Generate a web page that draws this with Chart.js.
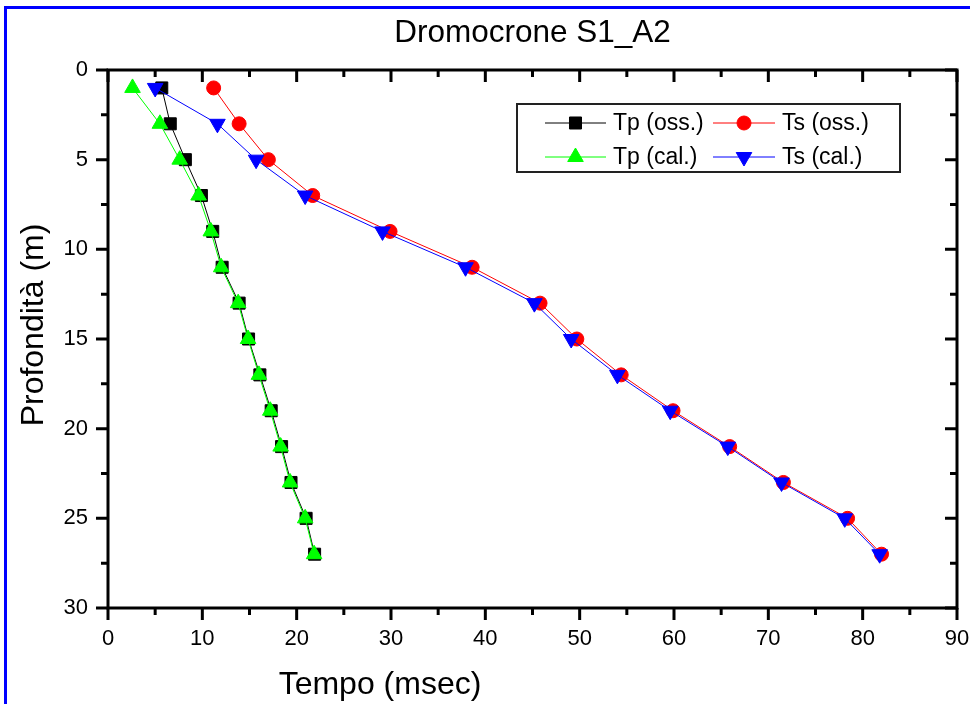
<!DOCTYPE html>
<html>
<head>
<meta charset="utf-8">
<script src="https://cdn.jsdelivr.net/npm/chart.js@4.4.1/dist/chart.umd.min.js"></script>
<style>
  html, body { margin: 0; padding: 0; background: #fff; }
  #wrap { position: relative; width: 970px; height: 704px; }
  #wrap canvas { position: absolute; left: 0; top: 0; }
  #frame { position: absolute; left: 4px; top: 6px; right: 0; bottom: 0;
           border-left: 3px solid #0000ff; border-top: 3px solid #0000ff; pointer-events: none; }
</style>
</head>
<body>
<div id="wrap"><canvas id="chart" width="970" height="704"></canvas><div id="frame"></div></div>
<script>
const chartTitle = "Dromocrone S1_A2";
const xTitle = "Tempo (msec)";
const yTitle = "Profondità (m)";
const seriesNames = ["Tp (oss.)", "Ts (oss.)", "Tp (cal.)", "Ts (cal.)"];

// profondità (m)
const depth = [1, 3, 5, 7, 9, 11, 13, 15, 17, 19, 21, 23, 25, 27];
// tempi (msec)
const tpOss = [5.7, 6.6, 8.2, 9.9, 11.1, 12.1, 13.9, 14.9, 16.1, 17.3, 18.4, 19.4, 21.0, 21.9];
const tsOss = [11.2, 13.9, 17.0, 21.7, 29.9, 38.6, 45.8, 49.7, 54.4, 59.9, 65.9, 71.6, 78.4, 82.0];
const tpCal = [2.6, 5.5, 7.6, 9.6, 10.9, 12.0, 13.8, 14.85, 16.0, 17.2, 18.3, 19.3, 20.9, 21.85];
const tsCal = [5.0, 11.6, 15.7, 20.9, 29.1, 37.9, 45.2, 49.1, 54.0, 59.6, 65.7, 71.4, 78.1, 81.8];

const FONT = '"Liberation Sans", Arial, sans-serif';
const pts = xs => xs.map((v, i) => ({ x: v, y: depth[i] }));

function series(label, data, color, style, radius, rotation, order) {
  return {
    label, data: pts(data), showLine: true, order,
    borderColor: color, borderWidth: 1,
    pointStyle: style, pointRadius: radius, pointRotation: rotation,
    pointBackgroundColor: color, pointBorderColor: color, pointBorderWidth: 1,
  };
}

// cornice, tacche principali/secondarie e titoli degli assi
const framePlugin = {
  id: "frame",
  afterDraw(chart) {
    const { ctx, chartArea: a, scales: { x, y } } = chart;
    ctx.save();
    ctx.strokeStyle = "#000";
    ctx.lineWidth = 3;
    ctx.strokeRect(a.left, a.top, a.right - a.left, a.bottom - a.top);
    ctx.beginPath();
    for (let v = x.min; v <= x.max; v += 5) {
      const px = x.getPixelForValue(v), len = v % 10 ? 7 : 12;
      ctx.moveTo(px, a.bottom); ctx.lineTo(px, a.bottom + len);
      ctx.moveTo(px, a.top); ctx.lineTo(px, a.top + len);
    }
    for (let v = y.min; v <= y.max; v += 2.5) {
      const py = y.getPixelForValue(v), len = v % 5 ? 7 : 12;
      ctx.moveTo(a.left, py); ctx.lineTo(a.left - len, py);
      ctx.moveTo(a.right, py); ctx.lineTo(a.right - len, py);
    }
    ctx.stroke();

    ctx.fillStyle = "#000";
    ctx.font = `32px ${FONT}`;
    ctx.textAlign = "center";
    ctx.textBaseline = "middle";
    ctx.fillText(xTitle, 380, 685);
    ctx.translate(34, 325);
    ctx.rotate(-Math.PI / 2);
    ctx.fillText(yTitle, 0, 0);
    ctx.restore();
  }
};

// legenda a due colonne dentro l'area del grafico
const legendPlugin = {
  id: "boxLegend",
  afterDraw(chart) {
    const { ctx } = chart;
    const cols = [{ x0: 545, x1: 606, tx: 613 }, { x0: 713, x1: 775, tx: 782 }];
    const rows = [123, 157];
    ctx.save();
    ctx.strokeStyle = "#222";
    ctx.lineWidth = 2;
    ctx.strokeRect(517, 104, 383, 68);
    chart.data.datasets.forEach((ds, i) => {
      const c = cols[i % 2], yy = rows[Math.floor(i / 2)];
      ctx.strokeStyle = ds.borderColor;
      ctx.lineWidth = 1;
      ctx.beginPath();
      ctx.moveTo(c.x0, yy); ctx.lineTo(c.x1, yy);
      ctx.stroke();
      ctx.fillStyle = ds.pointBackgroundColor;
      Chart.helpers.drawPoint(ctx, {
        pointStyle: ds.pointStyle, radius: ds.pointRadius,
        rotation: ds.pointRotation, borderWidth: 1,
      }, (c.x0 + c.x1) / 2, yy);
      ctx.fillStyle = "#000";
      ctx.font = `23px ${FONT}`;
      ctx.textAlign = "left";
      ctx.textBaseline = "middle";
      ctx.fillText(ds.label, c.tx, yy + 1);
    });
    ctx.restore();
  }
};

new Chart(document.getElementById("chart"), {
  type: "scatter",
  data: {
    datasets: [
      series(seriesNames[0], tpOss, "#000000", "rect", 8.5, 0, 1),
      series(seriesNames[1], tsOss, "#ff0000", "circle", 7, 0, 1),
      series(seriesNames[2], tpCal, "#00ff00", "triangle", 9, 0, 0),
      series(seriesNames[3], tsCal, "#0000ff", "triangle", 9, 180, 0),
    ],
  },
  options: {
    responsive: false,
    animation: false,
    layout: { padding: 0 },
    plugins: {
      legend: { display: false },
      tooltip: { enabled: false },
      title: {
        display: true, text: chartTitle, fullSize: false, color: "#000",
        font: { family: FONT, size: 31.5, weight: "normal", lineHeight: 1.2 },
        padding: { top: 14, bottom: 18.2 },
      },
    },
    scales: {
      x: {
        type: "linear", position: "bottom", min: 0, max: 90,
        grid: { display: false, drawTicks: false }, border: { display: false },
        ticks: { stepSize: 10, color: "#000", padding: 18, font: { family: FONT, size: 22 } },
        afterFit: s => { s.height = 96; s.paddingRight = 13; s.paddingLeft = 0; },
      },
      y: {
        type: "linear", reverse: true, min: 0, max: 30,
        grid: { display: false, drawTicks: false }, border: { display: false },
        ticks: { stepSize: 5, color: "#000", padding: 20, font: { family: FONT, size: 22 } },
        afterFit: s => { s.width = 108; },
      },
    },
  },
  plugins: [framePlugin, legendPlugin],
});
</script>
</body>
</html>
